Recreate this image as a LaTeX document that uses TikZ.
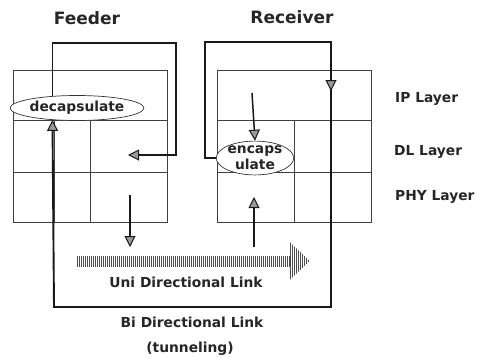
\documentclass[tikz,border=0pt]{standalone}
\usepackage{fontspec}
\setmainfont{DejaVu Sans}
\usetikzlibrary{arrows.meta,shapes.geometric}
\begin{document}
\begin{tikzpicture}[x=1pt,y=-1pt,
  grid/.style={draw=black!75,line width=0.7pt},
  loopline/.style={draw=black!90,line width=1.9pt},
  tip/.style={-{Triangle[length=11pt,width=11pt,fill=black!40,line width=1pt]}},
  thinarrow/.style={draw=black!90,line width=1.5pt,-{Triangle[length=11pt,width=11pt,fill=black!40,line width=1pt]}},
  lbl/.style={font=\fontsize{13.8}{16}\bfseries\selectfont,text=black!85,inner sep=0},
  title/.style={font=\fontsize{17}{19}\bfseries\selectfont,text=black!85,inner sep=0},
  hatch/.style={draw=black!70,line width=0.9pt},
]
\useasboundingbox[fill=white] (0,0) rectangle (477,357);
% Feeder stack
\draw[grid] (13,70) rectangle (167,222);
\draw[grid] (13,120) -- (167,120);
\draw[grid] (13,172) -- (167,172);
\draw[grid] (54,120) -- (54,222);
\draw[grid] (90,120) -- (90,222);
% Receiver stack
\draw[grid] (217,70) rectangle (371,222);
\draw[grid] (217,120) -- (371,120);
\draw[grid] (217,172) -- (371,172);
\draw[grid] (294,120) -- (294,222);
% ellipses
\node[ellipse,draw=black!80,line width=0.7pt,fill=white,minimum width=128pt,minimum height=25pt,lbl] (decap) at (77,108) {decapsulate};
\node[ellipse,draw=black!80,line width=0.7pt,fill=white,minimum width=76pt,minimum height=28pt,inner sep=-2pt,align=center,lbl] (encap) at (255,158) {encaps\\ulate};
% coordinates
\coordinate (fR) at (176,43);
\coordinate (fArr) at (128,155);
\coordinate (rL) at (205,42);
\coordinate (rR) at (331,42);
\coordinate (rMid) at (331,91);
\coordinate (br) at (331,307);
\coordinate (bl) at (54,307);
% feeder loop
\draw[loopline,tip] (decap.154) |- (fR) |- (fArr);
% tunnel
\draw[loopline,tip] (encap.west) -| (rL) -- (rR) -- (br) -- (bl) -- (decap.206);
\draw[loopline,tip] (rR) -- (rMid);
% vertical arrows
\coordinate (fa1) at (130,195);
\coordinate (fa2) at (130,247);
\coordinate (ra1) at (254,247);
\coordinate (ra2) at (254,197);
\coordinate (ia1) at (252,93);
\draw[thinarrow] (fa1) -- (fa2);
\draw[thinarrow] (ra1) -- (ra2);
\draw[thinarrow] (ia1) -- (encap.north);
% hatched uni-directional arrow
\foreach \x in {77,79,...,289} \draw[hatch] (\x,256) -- (\x,267);
\begin{scope}
\clip (290,242) -- (310,261) -- (290,280) -- cycle;
\foreach \x in {290,292,...,310} \draw[hatch] (\x,240) -- (\x,282);
\end{scope}
% labels
\node[title,anchor=base] (feeder) at (87,24) {Feeder};
\node[title,anchor=base] (recv) at (292,23) {Receiver};
\node[lbl,anchor=base west] (ip) at (395,102) {IP Layer};
\node[lbl,anchor=base west] (dl) at (394,155) {DL Layer};
\node[lbl,anchor=base west] (phy) at (395,200) {PHY Layer};
\node[lbl,anchor=base] (uni) at (186,287) {Uni Directional Link};
\node[lbl,anchor=base] (bi) at (192,327) {Bi Directional Link};
\node[lbl,anchor=base] (tun) at (190,352) {(tunneling)};
\end{tikzpicture}
\end{document}
